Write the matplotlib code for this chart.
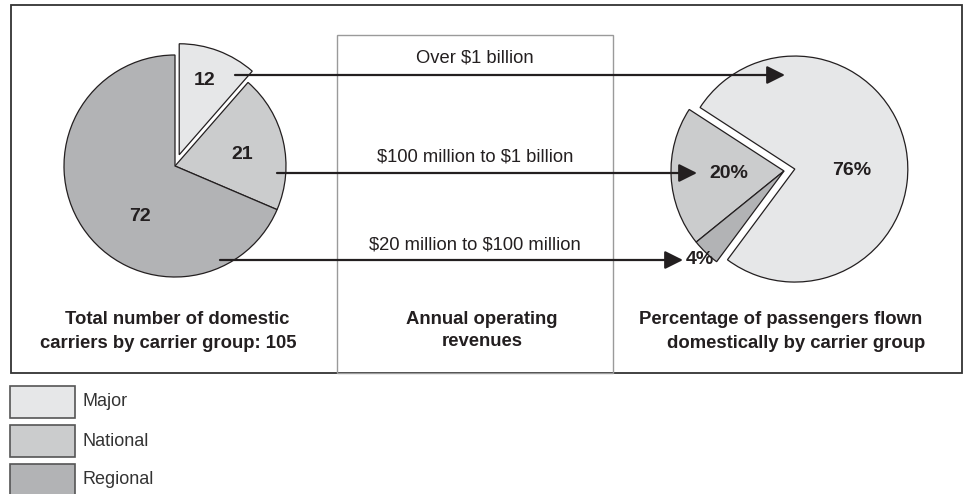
import matplotlib
matplotlib.use("Agg")
import matplotlib.pyplot as plt
from matplotlib.patches import Rectangle

plt.rcParams['font.family'] = ['Liberation Sans', 'DejaVu Sans']
plt.rcParams['text.parse_math'] = False

# ---- data ----
groups = ["Major", "National", "Regional"]
carrier_counts = [12, 21, 72]            # total 105
passenger_pct = [76, 20, 4]              # Major, National, Regional
revenue_labels = ["Over $1 billion", "$100 million to $1 billion",
                  "$20 million to $100 million"]
colors = ["#e6e7e8", "#cbcccd", "#b2b3b5"]
edge = "#231f20"

W, H = 965, 494
fig = plt.figure(figsize=(W / 100, H / 100), dpi=100)
ax = fig.add_axes([0, 0, 1, 1])

def Y(y):
    return H - y

# outer frame
ax.add_patch(Rectangle((11, Y(373)), 951, 368, fill=False, ec="#333333", lw=1.3))
# middle box
ax.add_patch(Rectangle((337, Y(373)), 276, 338, fill=False, ec="#9a9a9a", lw=1.0))

# left pie: carriers
wp = dict(edgecolor=edge, linewidth=0.9)
ax.pie(carrier_counts, colors=colors, startangle=90, counterclock=False,
       center=(175, Y(166)), radius=111, explode=[12, 0, 0], wedgeprops=wp)

# right pie: passengers (order National, Regional, Major counterclockwise from 147 deg)
ax.pie([passenger_pct[1], passenger_pct[2], passenger_pct[0]],
       colors=[colors[1], colors[2], colors[0]], startangle=147, counterclock=True,
       center=(784, Y(171)), radius=113, explode=[0, 0, 11], wedgeprops=wp)

ax.set_xlim(0, W)
ax.set_ylim(0, H)
ax.set_aspect('equal')
ax.axis('off')

# labels on pies
lab = dict(fontsize=14, fontweight='bold', color=edge, ha='center', va='center')
ax.text(205, Y(80), str(carrier_counts[0]), **lab)
ax.text(242, Y(154), str(carrier_counts[1]), **lab)
ax.text(140, Y(216), str(carrier_counts[2]), **lab)
ax.text(852, Y(170), f"{passenger_pct[0]}%", **lab)
ax.text(729, Y(173), f"{passenger_pct[1]}%", **lab)
ax.text(700, Y(259), f"{passenger_pct[2]}%", **lab)

# arrows
arrows = [((235, 75), (785, 75)), ((277, 173), (697, 173)), ((220, 260), (683, 260))]
for (x0, y0), (x1, y1) in arrows:
    ax.annotate("", xy=(x1, Y(y1)), xytext=(x0, Y(y0)),
                arrowprops=dict(arrowstyle="-|>,head_length=1.0,head_width=0.5",
                                mutation_scale=11, color=edge, lw=1.6,
                                shrinkA=0, shrinkB=0))

# revenue labels
rev_y = [58, 157, 245]
for t, y in zip(revenue_labels, rev_y):
    ax.text(475, Y(y), t, fontsize=13.2, color=edge, ha='center', va='center')

# captions
cap = dict(fontsize=13.3, fontweight='bold', color=edge, va='center')
ax.text(177, Y(320), "Total number of domestic", ha='center', **cap)
ax.text(168, Y(343), "carriers by carrier group: 105", ha='center', **cap)
ax.text(482, Y(320), "Annual operating", ha='center', **cap)
ax.text(482, Y(342), "revenues", ha='center', **cap)
ax.text(639, Y(320), "Percentage of passengers flown", ha='left', **cap)
ax.text(667, Y(343), "domestically by carrier group", ha='left', **cap)

# legend
leg_y = [386, 425, 464]
for g, c, y in zip(groups, colors, leg_y):
    ax.add_patch(Rectangle((10, Y(y + 32)), 65, 32, fc=c, ec="#555555", lw=1.2))
    ax.text(83, Y(y + 16), g, fontsize=13, color="#333333", ha='left', va='center')

fig.savefig("out.png", dpi=100)
